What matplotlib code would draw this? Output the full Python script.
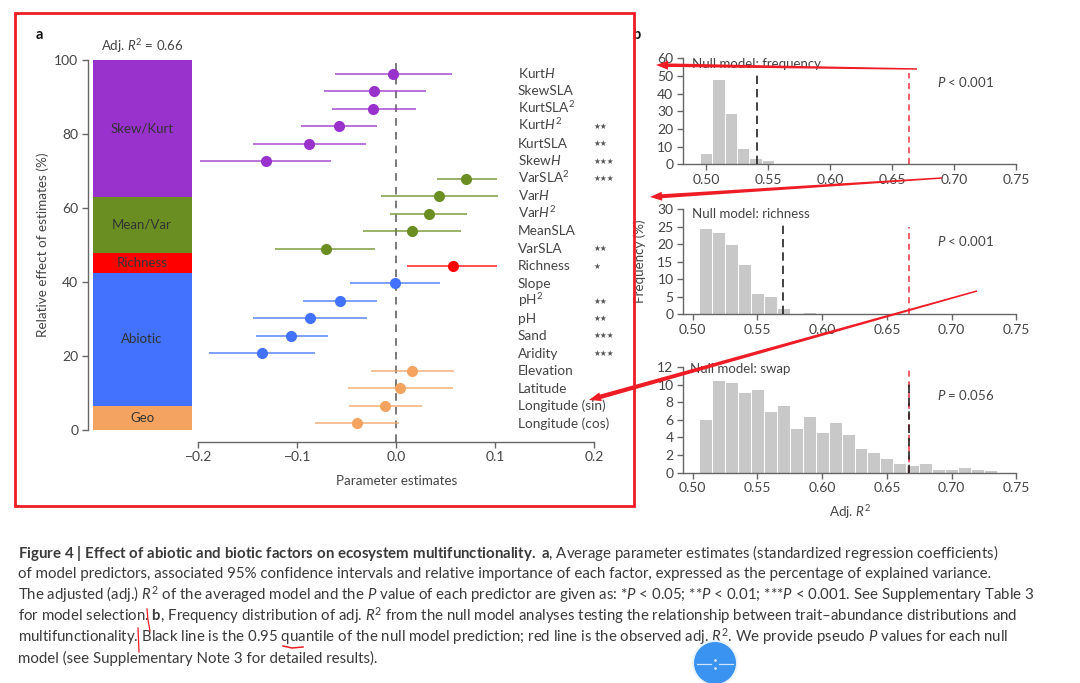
import numpy as np
import matplotlib
matplotlib.use("Agg")
import matplotlib.pyplot as plt
from matplotlib.patches import Circle, Polygon, Rectangle

W, H = 1080, 683

plt.rcParams["font.family"] = ["Lato", "DejaVu Sans"]
plt.rcParams["mathtext.fontset"] = "custom"
plt.rcParams["mathtext.rm"] = "Lato"
plt.rcParams["mathtext.it"] = "Lato:italic"
plt.rcParams["mathtext.bf"] = "Lato:bold"

TXT = "#444444"
AXC = "#666666"
BAR = "#c8c8c8"

# panel a, stacked importance
group_names = ["Geo", "Abiotic", "Richness", "Mean/Var", "Skew/Kurt"]
group_share = [6.5, 36.0, 5.4, 15.1, 37.0]
group_cols = ["#f4a460", "#4272ff", "#ff0000", "#6b8e23", "#9932cc"]

# panel a, estimates
pred_names = ["Kurt$\\mathit{H}$", "SkewSLA", "KurtSLA$^2$", "Kurt$\\mathit{H}^2$", "KurtSLA",
              "Skew$\\mathit{H}$", "VarSLA$^2$", "Var$\\mathit{H}$", "Var$\\mathit{H}^2$", "MeanSLA",
              "VarSLA", "Richness", "Slope", "pH$^2$", "pH", "Sand", "Aridity",
              "Elevation", "Latitude", "Longitude (sin)", "Longitude (cos)"]
pred_est = [-0.003, -0.022, -0.023, -0.058, -0.088, -0.132, 0.071, 0.043, 0.033, 0.016, -0.071,
            0.057, -0.001, -0.057, -0.087, -0.106, -0.136, 0.016, 0.004, -0.011, -0.040]
pred_lo = [-0.062, -0.073, -0.065, -0.096, -0.145, -0.198, 0.041, -0.015, -0.006, -0.034, -0.122,
           0.011, -0.047, -0.094, -0.145, -0.142, -0.189, -0.025, -0.049, -0.048, -0.082]
pred_hi = [0.056, 0.030, 0.020, -0.019, -0.030, -0.066, 0.102, 0.103, 0.072, 0.066, -0.021,
           0.102, 0.044, -0.019, -0.029, -0.069, -0.082, 0.058, 0.057, 0.026, 0.003]
pred_stars = ["", "", "", 2, 2, 3, 3, "", "", "", 2, 1, "", 2, 2, 3, 3, "", "", "", ""]
pred_group = [4]*6 + [3]*5 + [2] + [1]*5 + [0]*4

# panel b, histograms
freq_left = [0.495, 0.505, 0.515, 0.525, 0.535, 0.545]
freq_vals = [6.5, 48, 29, 9, 3.5, 2.5]
rich_left = [0.505, 0.515, 0.525, 0.535, 0.545, 0.555, 0.565, 0.575, 0.585, 0.595]
rich_vals = [24.5, 23.5, 20, 14.3, 6.2, 5.1, 1.9, 0.5, 0.7, 0.5]
swap_left = [0.505, 0.515, 0.525, 0.535, 0.545, 0.555, 0.565, 0.575, 0.585, 0.595, 0.605, 0.615,
             0.625, 0.635, 0.645, 0.655, 0.665, 0.675, 0.685, 0.695, 0.705, 0.715, 0.725, 0.735]
swap_vals = [6.1, 10.5, 10.3, 9.2, 9.5, 7.05, 7.7, 5.1, 6.4, 4.6, 5.7, 4.4,
             2.8, 2.3, 1.7, 1.05, 0.85, 1.15, 0.4, 0.45, 0.65, 0.4, 0.35, 0.1]
hist_xticks = [0.50, 0.55, 0.60, 0.65, 0.70, 0.75]

caption = [
    "$\\mathbf{Figure\\ 4\\ |\\ Effect\\ of\\ abiotic\\ and\\ biotic\\ factors\\ on\\ ecosystem\\ multifunctionality.\\ a}$, Average parameter estimates (standardized regression coefficients)",
    "of model predictors, associated 95% confidence intervals and relative importance of each factor, expressed as the percentage of explained variance.",
    "The adjusted (adj.) $\\mathit{R}^2$ of the averaged model and the $\\mathit{P}$ value of each predictor are given as: *$\\mathit{P}$ < 0.05; **$\\mathit{P}$ < 0.01; ***$\\mathit{P}$ < 0.001. See Supplementary Table 3",
    "for model selection. $\\mathbf{b}$, Frequency distribution of adj. $\\mathit{R}^2$ from the null model analyses testing the relationship between trait\u2013abundance distributions and",
    "multifunctionality. Black line is the 0.95 quantile of the null model prediction; red line is the observed adj. $\\mathit{R}^2$. We provide pseudo $\\mathit{P}$ values for each null",
    "model (see Supplementary Note 3 for detailed results).",
]
caption_y = [553, 574, 595, 616, 637, 658]

fig = plt.figure(figsize=(W/100, H/100), dpi=100)


def box(x0, y0, x1, y1):
    return fig.add_axes([x0/W, 1-y1/H, (x1-x0)/W, (y1-y0)/H])


def clean(ax):
    ax.patch.set_alpha(0)
    for s in ["top", "right"]:
        ax.spines[s].set_visible(False)
    for s in ["left", "bottom"]:
        ax.spines[s].set_color(AXC)
        ax.spines[s].set_linewidth(1.0)
    ax.tick_params(colors=TXT, labelsize=10, length=4, width=1.0, color=AXC, pad=3)


# stacked bar
ax = box(88, 60, 192, 430)
clean(ax)
ax.spines["bottom"].set_visible(False)
ax.set_xlim(0, 104)
ax.set_ylim(0, 100)
ax.set_xticks([])
ax.set_yticks([0, 20, 40, 60, 80, 100])
ax.set_ylabel("Relative effect of estimates (%)", fontsize=9.7, color=TXT, labelpad=4)
bottom = 0
for name, share, col in zip(group_names, group_share, group_cols):
    ax.bar(4.7, share, width=99, bottom=bottom, align="edge", color=col)
    ax.text(54, bottom+share/2, name, ha="center", va="center", fontsize=9.5, color="#333333")
    bottom += share
ax.text(54, 103.7, "Adj. $\\mathit{R}^2$ = 0.66", ha="center", va="center", fontsize=9.5, color=TXT)

# estimates
ax = box(198.3, 60, 594, 441.7)
clean(ax)
ax.spines["left"].set_visible(False)
ax.set_xlim(-0.2, 0.2)
ax.set_ylim(21.05, -0.784)
ax.set_yticks([])
ax.set_xticks([-0.2, -0.1, 0.0, 0.1, 0.2])
ax.set_xticklabels(["\u22120.2", "\u22120.1", "0.0", "0.1", "0.2"])
ax.set_xlabel("Parameter estimates", fontsize=9.6, color=TXT, labelpad=8.5)
ax.axvline(0, color="#555555", lw=1.1, dashes=(5, 4), zorder=1)
for i, name in enumerate(pred_names):
    col = group_cols[pred_group[i]]
    ax.plot([pred_lo[i], pred_hi[i]], [i, i], color=col, lw=1.2, alpha=0.8, zorder=2, solid_capstyle="butt")
    ax.plot(pred_est[i], i, "o", color=col, ms=8, mew=0, zorder=3)
    ax.text(0.123, i+0.24, name, ha="left", va="baseline", fontsize=9.8, color=TXT)
    if pred_stars[i]:
        ax.text(0.199, i, "\u2605"*pred_stars[i], ha="left", va="center", fontsize=5.5,
                color="#555555", family="DejaVu Sans")


def hist(pos, xlim, left, vals, ylim, yticks, title, title_x, title_y, p_txt, p_y, black, red):
    ax = box(*pos)
    clean(ax)
    ax.set_xlim(*xlim)
    ax.set_ylim(*ylim)
    ax.set_xticks(hist_xticks)
    ax.set_xticklabels(["%.2f" % t for t in hist_xticks])
    ax.set_yticks(yticks)
    ax.bar(left, vals, width=0.01, align="edge", color=BAR, edgecolor="white", lw=0.7, zorder=1)
    ax.plot([red[0], red[0]], [0, red[1]], color="#ee3344", lw=1.1, dashes=(4, 3), zorder=3)
    ax.plot([black[0], black[0]], [0, black[1]], color="#222222", lw=1.2, dashes=(5, 3), zorder=4)
    fig.text(title_x/W, 1-title_y/H, title, fontsize=9.5, color=TXT, va="center")
    fig.text(937/W, 1-p_y/H, p_txt, fontsize=9.5, color=TXT, va="center")
    return ax


hist((683, 58.3, 1016.3, 164.3), (0.4815, 0.75), freq_left, freq_vals, (0, 60),
     [0, 10, 20, 30, 40, 50, 60], "Null model: frequency", 692, 64,
     "$\\mathit{P}$ < 0.001", 82, (0.541, 52), (0.6637, 51.5))
hist((683.3, 209, 1016.3, 314.3), (0.4927, 0.75), rich_left, rich_vals, (0, 30),
     [0, 5, 10, 15, 20, 25, 30], "Null model: richness", 692, 214,
     "$\\mathit{P}$ < 0.001", 241, (0.57, 25.6), (0.667, 25))
ax = hist((683.3, 367, 1016.3, 472.7), (0.4927, 0.75), swap_left, swap_vals, (0, 12),
          [0, 2, 4, 6, 8, 10, 12], "Null model: swap", 690, 369,
          "$\\mathit{P}$ = 0.056", 395, (0.667, 10.2), (0.667, 11.8))
ax.set_xlabel("Adj. $\\mathit{R}^2$", fontsize=9.6, color=TXT, labelpad=6)

fig.text(640/W, 1-261/H, "Frequency (%)", rotation=90, fontsize=9.6, color=TXT, ha="center", va="center")
fig.text(36/W, 1-35/H, "a", fontsize=10.5, fontweight="bold", color="#111111", ha="left", va="center")
fig.text(632/W, 1-35/H, "b", fontsize=10.5, fontweight="bold", color="#111111", ha="left", va="center")

for line, y in zip(caption, caption_y):
    fig.text(18/W, 1-y/H, line, fontsize=10.85, color="#3a3a3a", va="center")

# hand drawn markup on top of the page, in pixel coordinates
top = fig.add_axes([0, 0, 1, 1], zorder=10)
top.set_xlim(0, W)
top.set_ylim(H, 0)
top.axis("off")
RED = "#ee1c25"
top.add_patch(Rectangle((15, 13), 619, 493, fill=False, edgecolor=RED, lw=2.0))


def arrow(x0, y0, x1, y1, w0, w1):
    d = np.array([x1-x0, y1-y0], float)
    d /= np.hypot(*d)
    n = np.array([-d[1], d[0]])
    a = np.array([x0, y0])
    b = np.array([x1, y1])
    neck = b-d*12
    top.add_patch(Polygon([a+n*w0/2, neck+n*w1/2, neck+n*4.5, b, neck-n*4.5, neck-n*w1/2, a-n*w0/2],
                          closed=True, color=RED, lw=0))


arrow(917, 69, 656, 65, 1.5, 3.5)
arrow(942, 178, 650, 197, 1.5, 4)
arrow(977, 291, 589, 400, 1.5, 4.5)
top.plot([147, 148, 150], [609, 620, 631], color=RED, lw=0.9)
top.plot([138, 138.5, 139], [628, 640, 652], color=RED, lw=0.9)
top.plot([283, 292, 303], [646, 648, 647], color=RED, lw=1.1)

top.add_patch(Circle((715, 663), 23, color="#eaf3fb", lw=0, clip_on=True))
top.add_patch(Circle((715, 663), 21, color="#3a93f0", lw=0, clip_on=True))
top.plot([697, 711], [664, 664], color="#cfe4fa", lw=0.9)
top.plot([719, 733], [664, 664], color="#cfe4fa", lw=0.9)
top.plot([715, 715], [660, 668], ".", color="#cfe4fa", ms=2)

fig.savefig("out.png", dpi=100)
